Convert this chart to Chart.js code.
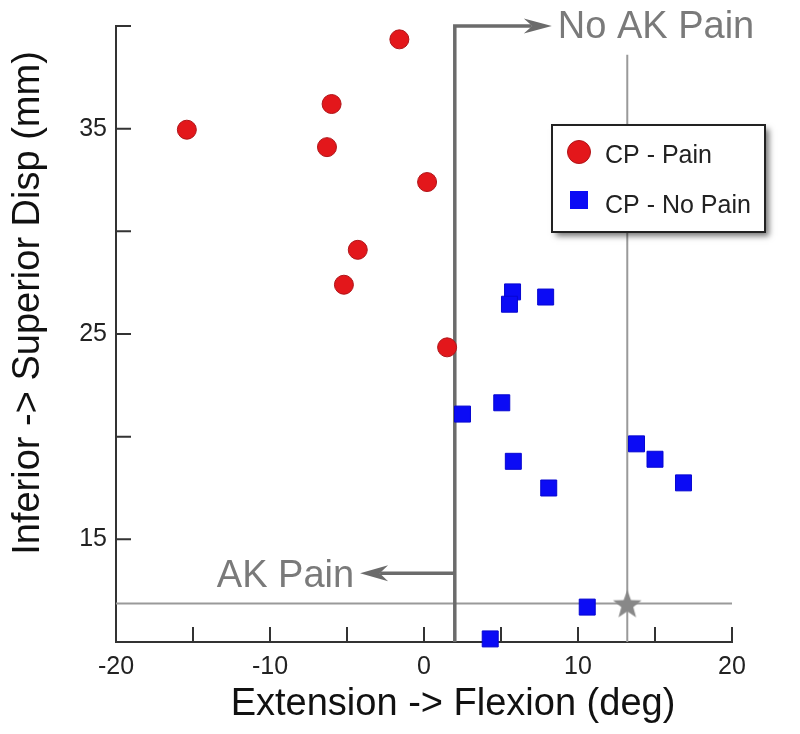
<!DOCTYPE html>
<html>
<head>
<meta charset="utf-8">
<script src="https://cdn.jsdelivr.net/npm/chart.js@4"></script>
<style>
  html, body { margin: 0; padding: 0; background: #fff; }
  #chart { display: block; }
</style>
</head>
<body>
<canvas id="chart" width="800" height="734"></canvas>
<script>
const PAIN_X = [-1.6, -6.0, -15.4, -6.3, 0.2, -4.3, -5.2, 1.5];
const PAIN_Y = [39.35, 36.2, 34.95, 34.1, 32.4, 29.1, 27.4, 24.35];
const NOPAIN_X = [5.75, 5.55, 7.9, 2.5, 5.05, 5.8, 8.1, 13.8, 15.0, 16.85, 10.6, 4.3];
const NOPAIN_Y = [27.05, 26.45, 26.8, 21.1, 21.65, 18.8, 17.5, 19.65, 18.9, 17.75, 11.7, 10.15];
const STAR_X = [13.2];
const STAR_Y = [11.87];

const X_LABELS = [-20, -10, 0, 10, 20];
const Y_LABELS = [15, 25, 35];

const THRESHOLD_X = 2;
const REF_X = 13.2;
const REF_Y = 11.87;
const REF_X_TOP = 38.6;
const NO_PAIN_ARROW_TIP = 8.3;
const PAIN_ARROW_TIP = -4.15;
const PAIN_ARROW_Y = 13.35;

const FONT = "'Liberation Sans', Arial, sans-serif";

const toPoints = (xs, ys) => xs.map((x, i) => ({ x, y: ys[i] }));

const makeStar = (size, color) => {
  const c = document.createElement("canvas");
  c.width = size;
  c.height = size;
  const g = c.getContext("2d");
  const r = size / 2;
  const inner = r * 0.42;
  g.beginPath();
  for (let i = 0; i < 10; i += 1) {
    const rad = i % 2 === 0 ? r : inner;
    const a = -Math.PI / 2 + (i * Math.PI) / 5;
    const px = r + rad * Math.cos(a);
    const py = r + 1.5 + rad * Math.sin(a);
    if (i === 0) g.moveTo(px, py);
    else g.lineTo(px, py);
  }
  g.closePath();
  g.fillStyle = color;
  g.fill();
  return c;
};

const arrowHead = (ctx, tipX, tipY, dir, len, half) => {
  // dir: +1 points right, -1 points left
  ctx.beginPath();
  ctx.moveTo(tipX, tipY);
  ctx.lineTo(tipX - dir * len, tipY - half);
  ctx.lineTo(tipX - dir * len * 0.7, tipY);
  ctx.lineTo(tipX - dir * len, tipY + half);
  ctx.closePath();
  ctx.fill();
};

const annotationPlugin = {
  id: "annotations",
  beforeDatasetsDraw(chart) {
    const { ctx, scales } = chart;
    const x = scales.x;
    const y = scales.y;

    ctx.save();
    ctx.lineCap = "butt";

    // thin reference lines
    ctx.strokeStyle = "#9a9a9a";
    ctx.lineWidth = 2;
    ctx.beginPath();
    ctx.moveTo(x.getPixelForValue(-20), y.getPixelForValue(REF_Y));
    ctx.lineTo(x.getPixelForValue(20), y.getPixelForValue(REF_Y));
    ctx.moveTo(x.getPixelForValue(REF_X), y.getPixelForValue(10));
    ctx.lineTo(x.getPixelForValue(REF_X), y.getPixelForValue(REF_X_TOP));
    ctx.stroke();

    // threshold line with arrows
    const tx = x.getPixelForValue(THRESHOLD_X);
    const topY = y.getPixelForValue(40);
    const noTip = x.getPixelForValue(NO_PAIN_ARROW_TIP);
    const painTip = x.getPixelForValue(PAIN_ARROW_TIP);
    const painY = y.getPixelForValue(PAIN_ARROW_Y);

    ctx.strokeStyle = "#6b6b6b";
    ctx.fillStyle = "#6b6b6b";
    ctx.lineWidth = 3.5;
    ctx.lineJoin = "miter";
    ctx.beginPath();
    ctx.moveTo(tx, y.getPixelForValue(10));
    ctx.lineTo(tx, topY);
    ctx.lineTo(noTip - 20, topY);
    ctx.moveTo(tx, painY);
    ctx.lineTo(painTip + 20, painY);
    ctx.stroke();
    arrowHead(ctx, noTip, topY, 1, 28, 7.5);
    arrowHead(ctx, painTip, painY, -1, 28, 8);

    ctx.fillStyle = "#7a7a7a";
    ctx.font = `38px ${FONT}`;
    ctx.textBaseline = "alphabetic";
    ctx.textAlign = "left";
    ctx.fillText("No AK Pain", noTip + 6, 38);
    ctx.textAlign = "right";
    ctx.fillText("AK Pain", painTip - 6, painY + 14);

    ctx.restore();
  },
  afterDraw(chart) {
    const { ctx, scales } = chart;
    const x = scales.x;
    const y = scales.y;
    const area = chart.chartArea;

    ctx.save();
    // inward tick marks
    ctx.strokeStyle = "#333";
    ctx.lineWidth = 2;
    ctx.beginPath();
    x.ticks.forEach((t) => {
      const px = x.getPixelForValue(t.value);
      ctx.moveTo(px, area.bottom);
      ctx.lineTo(px, area.bottom - 15);
    });
    y.ticks.forEach((t) => {
      const py = y.getPixelForValue(t.value);
      ctx.moveTo(area.left, py);
      ctx.lineTo(area.left + 15, py);
    });
    ctx.stroke();

    // axis titles
    ctx.fillStyle = "#111";
    ctx.font = `38px ${FONT}`;
    ctx.textAlign = "center";
    ctx.textBaseline = "alphabetic";
    ctx.fillText("Extension -> Flexion (deg)", 453, 715);
    ctx.save();
    ctx.translate(39, 303);
    ctx.rotate(-Math.PI / 2);
    ctx.fillText("Inferior -> Superior Disp (mm)", 0, 0);
    ctx.restore();

    // legend box
    const bx = 552, by = 125, bw = 213, bh = 107;
    ctx.save();
    ctx.shadowColor = "rgba(0,0,0,0.55)";
    ctx.shadowBlur = 6;
    ctx.shadowOffsetX = 4;
    ctx.shadowOffsetY = 4;
    ctx.fillStyle = "#fff";
    ctx.fillRect(bx, by, bw, bh);
    ctx.restore();
    ctx.strokeStyle = "#222";
    ctx.lineWidth = 2;
    ctx.strokeRect(bx, by, bw, bh);

    ctx.fillStyle = "#e3171b";
    ctx.strokeStyle = "#b01418";
    ctx.lineWidth = 1;
    ctx.beginPath();
    ctx.arc(579, 152, 11.5, 0, Math.PI * 2);
    ctx.fill();
    ctx.stroke();
    ctx.fillStyle = "#0b0bf5";
    ctx.fillRect(570, 191, 18, 18);

    ctx.fillStyle = "#222";
    ctx.font = `25px ${FONT}`;
    ctx.textAlign = "left";
    ctx.fillText("CP - Pain", 605, 163);
    ctx.fillText("CP - No Pain", 605, 213);
    ctx.restore();
  },
};

const tickFont = { family: FONT, size: 25 };

new Chart(document.getElementById("chart"), {
  type: "scatter",
  data: {
    datasets: [
      {
        label: "CP - Pain",
        data: toPoints(PAIN_X, PAIN_Y),
        pointStyle: "circle",
        radius: 9.5,
        backgroundColor: "#e3171b",
        borderColor: "#b01418",
        borderWidth: 1,
        clip: false,
      },
      {
        label: "CP - No Pain",
        data: toPoints(NOPAIN_X, NOPAIN_Y),
        pointStyle: "rect",
        radius: 11.3,
        backgroundColor: "#0b0bf5",
        borderColor: "#0707d0",
        borderWidth: 1,
        clip: false,
      },
      {
        label: "Reference",
        data: toPoints(STAR_X, STAR_Y),
        pointStyle: makeStar(30, "#888888"),
        radius: 15,
        clip: false,
      },
    ],
  },
  options: {
    responsive: false,
    animation: false,
    layout: { padding: { top: 26, right: 68, left: 0, bottom: 0 } },
    plugins: {
      legend: { display: false },
      tooltip: { enabled: false },
    },
    scales: {
      x: {
        type: "linear",
        min: -20,
        max: 20,
        afterFit(scale) {
          scale.height = 92;
        },
        ticks: {
          stepSize: 5,
          autoSkip: false,
          maxRotation: 0,
          padding: 10,
          color: "#222",
          font: tickFont,
          callback: (v) => (X_LABELS.includes(v) ? String(v) : ""),
        },
        grid: { drawOnChartArea: false, drawTicks: false },
        border: { color: "#333", width: 2 },
      },
      y: {
        type: "linear",
        min: 10,
        max: 40,
        afterFit(scale) {
          scale.width = 116;
        },
        ticks: {
          stepSize: 5,
          autoSkip: false,
          padding: 9,
          color: "#222",
          font: tickFont,
          callback: (v) => (Y_LABELS.includes(v) ? String(v) : ""),
        },
        grid: { drawOnChartArea: false, drawTicks: false },
        border: { color: "#333", width: 2 },
      },
    },
  },
  plugins: [annotationPlugin],
});
</script>
</body>
</html>
